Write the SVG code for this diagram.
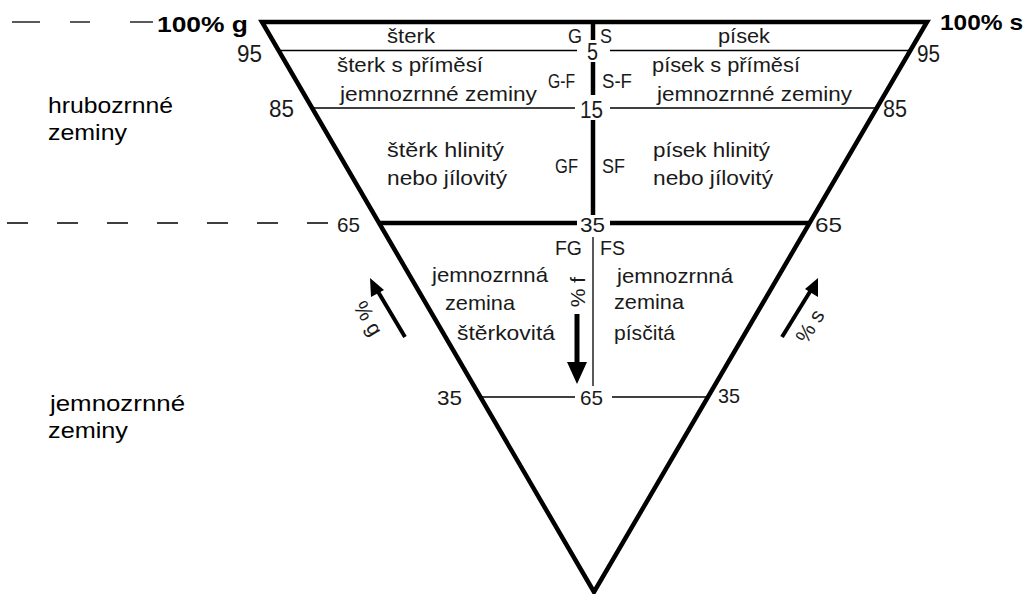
<svg xmlns="http://www.w3.org/2000/svg" width="1032" height="594" viewBox="0 0 1032 594">
<style>
text{font-family:"Liberation Sans",Arial,sans-serif;fill:#1a1a1a;font-size:21px}
.n{font-size:23px}
.b{font-weight:bold;font-size:22px;fill:#000}
.lab{font-size:22px;fill:#000}
.thick{stroke:#000;stroke-width:4.5;fill:none}
.thin{stroke:#000;stroke-width:1.3;fill:none}
.dash{stroke:#000;stroke-width:1.3}
</style>
<rect width="1032" height="594" fill="#fff"/>

<g id="connectors">
<polygon class="thick" points="262,22 927,22 594,592" stroke-linejoin="miter"/>
<line class="dash" x1="12" y1="22" x2="40" y2="22"/>
<line class="dash" x1="70" y1="22" x2="90" y2="22"/>
<line class="dash" x1="130" y1="22" x2="153" y2="22"/>
<line class="dash" x1="7" y1="223" x2="330" y2="223" stroke-dasharray="21 29"/>
<line class="thin" x1="279" y1="50.5" x2="577" y2="50.5"/>
<line class="thin" x1="610" y1="50.5" x2="910" y2="50.5"/>
<line class="thin" x1="312" y1="108" x2="575" y2="108"/>
<line class="thin" x1="610" y1="108" x2="877" y2="108"/>
<line class="thick" x1="379" y1="223" x2="577" y2="223"/>
<line class="thick" x1="610" y1="223" x2="810" y2="223"/>
<line class="thin" x1="480" y1="397" x2="575" y2="397"/>
<line class="thin" x1="612" y1="397" x2="708" y2="397"/>
<line class="thick" x1="593" y1="22" x2="593" y2="40"/>
<line class="thick" x1="593" y1="62" x2="593" y2="95"/>
<line class="thick" x1="593" y1="120" x2="593" y2="215"/>
<line class="thin" x1="593" y1="237" x2="593" y2="386"/>
<line stroke="#000" stroke-width="5" x1="577" y1="314" x2="577" y2="366"/>
<polygon points="567,362 587,362 577,384" fill="#000"/>
<line stroke="#000" stroke-width="4" x1="405" y1="337" x2="377" y2="290"/>
<polygon points="370,278 384,290 371,297" fill="#000"/>
<line stroke="#000" stroke-width="4" x1="782" y1="337" x2="811" y2="290"/>
<polygon points="818,278 818,297 805,289" fill="#000"/>
</g>

<g id="axis-labels">
<text class="b" x="157" y="32" textLength="91" lengthAdjust="spacingAndGlyphs">100% g</text>
<text class="b" x="940" y="30" textLength="83" lengthAdjust="spacingAndGlyphs">100% s</text>
<text class="n" x="237" y="62" textLength="25" lengthAdjust="spacingAndGlyphs">95</text>
<text class="n" x="917" y="62" textLength="23" lengthAdjust="spacingAndGlyphs">95</text>
<text class="n" x="269" y="117" textLength="25" lengthAdjust="spacingAndGlyphs">85</text>
<text class="n" x="883" y="117" textLength="24" lengthAdjust="spacingAndGlyphs">85</text>
<text class="n" x="587" y="60" textLength="11" lengthAdjust="spacingAndGlyphs">5</text>
<text class="n" x="580" y="118" textLength="23" lengthAdjust="spacingAndGlyphs">15</text>
<text x="337" y="232" textLength="23" lengthAdjust="spacingAndGlyphs">65</text>
<text x="580" y="232" textLength="25" lengthAdjust="spacingAndGlyphs">35</text>
<text x="815" y="232" textLength="27" lengthAdjust="spacingAndGlyphs">65</text>
<text x="437" y="405" textLength="25" lengthAdjust="spacingAndGlyphs">35</text>
<text x="580" y="405" textLength="23" lengthAdjust="spacingAndGlyphs">65</text>
<text x="718" y="403" textLength="22" lengthAdjust="spacingAndGlyphs">35</text>
<text transform="translate(585,292) rotate(-90)" text-anchor="middle">% f</text>
<text transform="translate(362,322) rotate(59)" text-anchor="middle">% g</text>
<text transform="translate(816,330) rotate(-58)" text-anchor="middle">% s</text>
</g>

<g id="node-hrubozrnne">
<text class="lab" x="48" y="113" textLength="125" lengthAdjust="spacingAndGlyphs">hrubozrnné</text>
<text class="lab" x="48" y="140" textLength="79" lengthAdjust="spacingAndGlyphs">zeminy</text>
</g>
<g id="node-jemnozrnne">
<text class="lab" x="50" y="411" textLength="135" lengthAdjust="spacingAndGlyphs">jemnozrnné</text>
<text class="lab" x="48" y="438" textLength="80" lengthAdjust="spacingAndGlyphs">zeminy</text>
</g>

<g id="node-sterk">
<text x="387" y="43" textLength="48" lengthAdjust="spacingAndGlyphs">šterk</text>
<text x="568" y="43" textLength="14" lengthAdjust="spacingAndGlyphs">G</text>
</g>
<g id="node-pisek">
<text x="718" y="43" textLength="52" lengthAdjust="spacingAndGlyphs">písek</text>
<text x="600" y="43" textLength="12" lengthAdjust="spacingAndGlyphs">S</text>
</g>
<g id="node-GF-dash">
<text x="337" y="72" textLength="146" lengthAdjust="spacingAndGlyphs">šterk s příměsí</text>
<text x="340" y="101" textLength="197" lengthAdjust="spacingAndGlyphs">jemnozrnné zeminy</text>
<text x="548" y="88" textLength="27" lengthAdjust="spacingAndGlyphs">G-F</text>
</g>
<g id="node-SF-dash">
<text x="652" y="72" textLength="148" lengthAdjust="spacingAndGlyphs">písek s příměsí</text>
<text x="657" y="101" textLength="195" lengthAdjust="spacingAndGlyphs">jemnozrnné zeminy</text>
<text x="602" y="88" textLength="30" lengthAdjust="spacingAndGlyphs">S-F</text>
</g>
<g id="node-GF">
<text x="387" y="157" textLength="117" lengthAdjust="spacingAndGlyphs">štěrk hlinitý</text>
<text x="387" y="185" textLength="120" lengthAdjust="spacingAndGlyphs">nebo jílovitý</text>
<text x="555" y="173" textLength="23" lengthAdjust="spacingAndGlyphs">GF</text>
</g>
<g id="node-SF">
<text x="653" y="157" textLength="117" lengthAdjust="spacingAndGlyphs">písek hlinitý</text>
<text x="653" y="185" textLength="120" lengthAdjust="spacingAndGlyphs">nebo jílovitý</text>
<text x="602" y="173" textLength="23" lengthAdjust="spacingAndGlyphs">SF</text>
</g>
<g id="node-FG">
<text x="555" y="255" textLength="27" lengthAdjust="spacingAndGlyphs">FG</text>
<text x="432" y="282" textLength="116" lengthAdjust="spacingAndGlyphs">jemnozrnná</text>
<text x="445" y="310" textLength="70" lengthAdjust="spacingAndGlyphs">zemina</text>
<text x="457" y="340" textLength="98" lengthAdjust="spacingAndGlyphs">štěrkovitá</text>
</g>
<g id="node-FS">
<text x="600" y="255" textLength="25" lengthAdjust="spacingAndGlyphs">FS</text>
<text x="617" y="283" textLength="116" lengthAdjust="spacingAndGlyphs">jemnozrnná</text>
<text x="614" y="309" textLength="70" lengthAdjust="spacingAndGlyphs">zemina</text>
<text x="614" y="340" textLength="61" lengthAdjust="spacingAndGlyphs">písčitá</text>
</g>
</svg>
